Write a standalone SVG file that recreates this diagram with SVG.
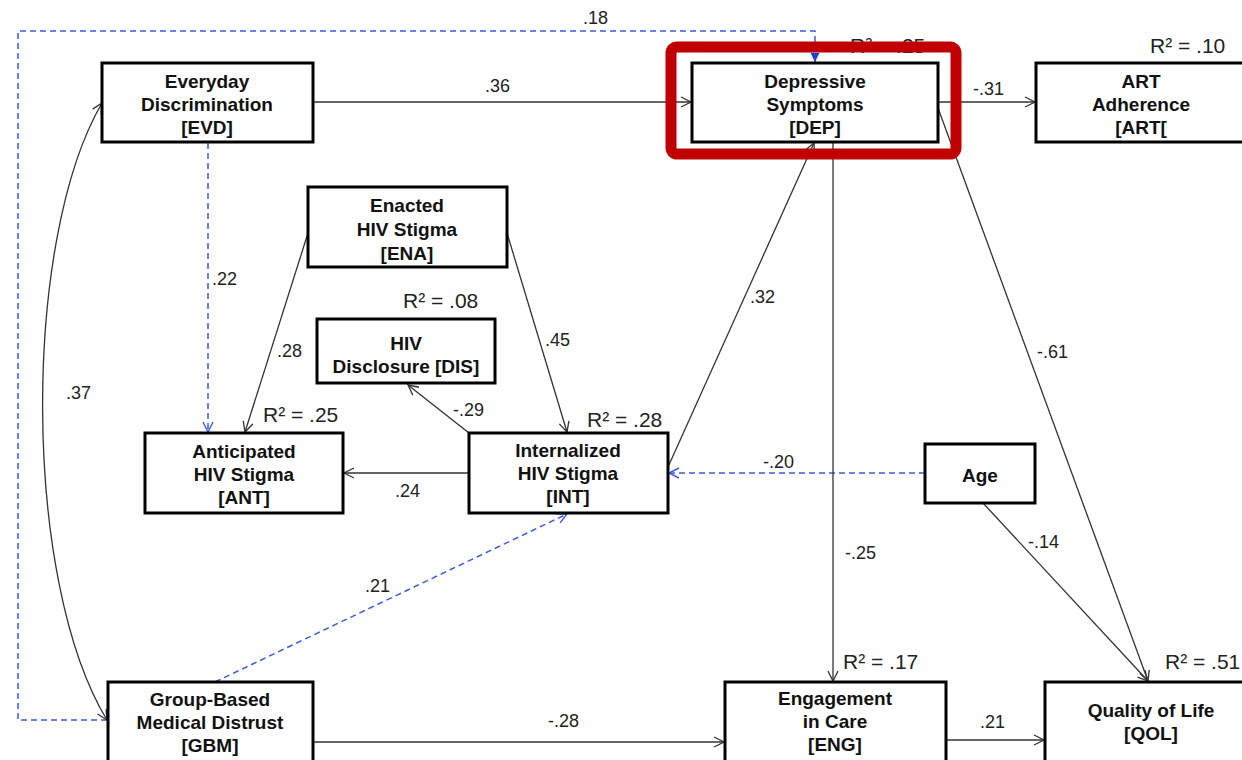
<svg xmlns="http://www.w3.org/2000/svg" width="1242" height="760" viewBox="0 0 1242 760">
<style>
.box{fill:#fff;stroke:#000;stroke-width:3}
.nt{font-family:"Liberation Sans",Arial,sans-serif;font-size:19px;font-weight:bold;fill:#111;text-anchor:middle}
.lb{font-family:"Liberation Sans",Arial,sans-serif;font-size:18px;fill:#222}
.r2{font-family:"Liberation Sans",Arial,sans-serif;font-size:21px;fill:#222}
.ln{fill:none;stroke:#333;stroke-width:1.3}
.bl{fill:none;stroke:#3a5ce0;stroke-width:1.5;stroke-dasharray:6 4}
</style>
<defs>
<marker id="ah" viewBox="0 0 12 12" markerWidth="12" markerHeight="12" refX="11" refY="6" orient="auto-start-reverse" markerUnits="userSpaceOnUse"><path d="M1,1 L11,6 L1,11" fill="none" stroke="#333" stroke-width="1.3"/></marker>
<marker id="ahb" viewBox="0 0 12 12" markerWidth="12" markerHeight="12" refX="11" refY="6" orient="auto" markerUnits="userSpaceOnUse"><path d="M1,1 L11,6 L1,11" fill="none" stroke="#3a5ce0" stroke-width="1.4"/></marker>
<marker id="ahf" viewBox="0 0 12 12" markerWidth="11" markerHeight="11" refX="11" refY="6" orient="auto" markerUnits="userSpaceOnUse"><path d="M1,1 L11,6 L1,11 Z" fill="#2040d0"/></marker>
</defs>

<g id="connectors">
<path class="bl" d="M107,720 H18 V31 H815 V62" marker-end="url(#ahf)"/>
<path class="ln" d="M313,102 H691" marker-end="url(#ah)"/>
<path class="ln" d="M938,102 H1035" marker-end="url(#ah)"/>
<path class="bl" d="M208,143 V432" marker-end="url(#ahb)"/>
<path class="ln" d="M107,720 C22,580 22,240 102,103" marker-start="url(#ah)" marker-end="url(#ah)"/>
<path class="ln" d="M308,233 L245,432" marker-end="url(#ah)"/>
<path class="ln" d="M507,233 L567,432" marker-end="url(#ah)"/>
<path class="ln" d="M469,433 L408,385" marker-end="url(#ah)"/>
<path class="ln" d="M469,473 H344" marker-end="url(#ah)"/>
<path class="ln" d="M668,467 L814,143" marker-end="url(#ah)"/>
<path class="bl" d="M925,473 H669" marker-end="url(#ahb)"/>
<path class="ln" d="M833,143 V681" marker-end="url(#ah)"/>
<path class="ln" d="M938,108 L1148,681" marker-end="url(#ah)"/>
<path class="ln" d="M983,503 L1148,681" marker-end="url(#ah)"/>
<path class="ln" d="M313,742 H724" marker-end="url(#ah)"/>
<path class="ln" d="M946,740 H1044" marker-end="url(#ah)"/>
<path class="bl" d="M215,682 L567,514" marker-end="url(#ahb)"/>
</g>

<g id="labels">
<text class="lb" x="583" y="24">.18</text>
<text class="lb" x="485" y="92">.36</text>
<text class="lb" x="973" y="95">-.31</text>
<text class="lb" x="212" y="285">.22</text>
<text class="lb" x="66" y="399">.37</text>
<text class="lb" x="277" y="357">.28</text>
<text class="lb" x="545" y="346">.45</text>
<text class="lb" x="453" y="416">-.29</text>
<text class="lb" x="395" y="497">.24</text>
<text class="lb" x="750" y="303">.32</text>
<text class="lb" x="763" y="468">-.20</text>
<text class="lb" x="1037" y="358">-.61</text>
<text class="lb" x="1028" y="548">-.14</text>
<text class="lb" x="845" y="559">-.25</text>
<text class="lb" x="365" y="592">.21</text>
<text class="lb" x="548" y="727">-.28</text>
<text class="lb" x="980" y="728">.21</text>
<text class="r2" x="850" y="53">R² = .25</text>
<text class="r2" x="1150" y="53">R² = .10</text>
<text class="r2" x="403" y="308">R² = .08</text>
<text class="r2" x="263" y="422">R² = .25</text>
<text class="r2" x="587" y="427">R² = .28</text>
<text class="r2" x="843" y="669">R² = .17</text>
<text class="r2" x="1165" y="669">R² = .51</text>
</g>

<g id="EVD"><rect class="box" x="102" y="63" width="211" height="79"/>
<text class="nt" x="207" y="88">Everyday</text><text class="nt" x="207" y="111">Discrimination</text><text class="nt" x="207" y="134">[EVD]</text></g>
<g id="DEP"><rect class="box" x="692" y="63" width="246" height="79"/>
<text class="nt" x="815" y="88">Depressive</text><text class="nt" x="815" y="111">Symptoms</text><text class="nt" x="815" y="134">[DEP]</text></g>
<g id="ART"><rect class="box" x="1036" y="63" width="212" height="79"/>
<text class="nt" x="1141" y="88">ART</text><text class="nt" x="1141" y="111">Adherence</text><text class="nt" x="1141" y="134">[ART[</text></g>
<g id="ENA"><rect class="box" x="308" y="187" width="199" height="80"/>
<text class="nt" x="407" y="212">Enacted</text><text class="nt" x="407" y="236">HIV Stigma</text><text class="nt" x="407" y="260">[ENA]</text></g>
<g id="DIS"><rect class="box" x="317" y="319" width="178" height="64"/>
<text class="nt" x="406" y="350">HIV</text><text class="nt" x="406" y="373">Disclosure [DIS]</text></g>
<g id="ANT"><rect class="box" x="145" y="433" width="198" height="80"/>
<text class="nt" x="244" y="458">Anticipated</text><text class="nt" x="244" y="481">HIV Stigma</text><text class="nt" x="244" y="504">[ANT]</text></g>
<g id="INT"><rect class="box" x="469" y="433" width="199" height="80"/>
<text class="nt" x="568" y="457">Internalized</text><text class="nt" x="568" y="480">HIV Stigma</text><text class="nt" x="568" y="503">[INT]</text></g>
<g id="AGE"><rect class="box" x="925" y="444" width="110" height="59"/>
<text class="nt" x="980" y="482">Age</text></g>
<g id="GBM"><rect class="box" x="108" y="682" width="205" height="88"/>
<text class="nt" x="210" y="706">Group-Based</text><text class="nt" x="210" y="729">Medical Distrust</text><text class="nt" x="210" y="752">[GBM]</text></g>
<g id="ENG"><rect class="box" x="725" y="682" width="221" height="88"/>
<text class="nt" x="835" y="705">Engagement</text><text class="nt" x="835" y="728">in Care</text><text class="nt" x="835" y="751">[ENG]</text></g>
<g id="QOL"><rect class="box" x="1045" y="682" width="205" height="88"/>
<text class="nt" x="1151" y="717">Quality of Life</text><text class="nt" x="1151" y="740">[QOL]</text></g>

<rect id="highlight" x="671" y="47" width="285" height="107" rx="6" fill="none" stroke="#c00000" stroke-width="11"/>
</svg>
